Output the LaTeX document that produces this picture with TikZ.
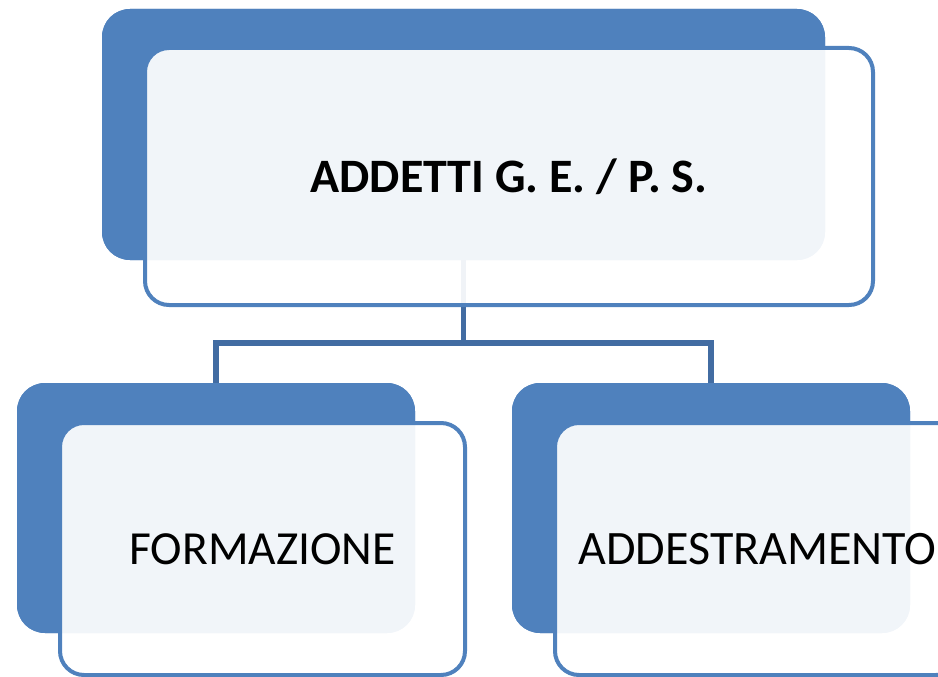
\documentclass[tikz,border=0pt]{standalone}
\usepackage{fontspec}
\setmainfont{Carlito}
\definecolor{accent}{RGB}{79,129,189}
\definecolor{connc}{RGB}{66,108,162}
\begin{document}
\begin{tikzpicture}[x=1pt,y=-1pt,
  backbox/.style={draw=none,fill=accent,rounded corners=28pt,inner sep=0pt},
  frontbox/.style={draw=accent,line width=4pt,fill=white,fill opacity=0.92,text opacity=1,draw opacity=1,rounded corners=24pt,inner sep=0pt,text=black},
  connline/.style={draw=connc,line width=5.5pt,line join=miter}]
\useasboundingbox (0,0) rectangle (938,677);
\clip (0,0) rectangle (938,677);
% back boxes
\node[backbox,minimum width=723pt,minimum height=251pt] (topback) at (463.5,134.5) {};
\node[backbox,minimum width=398pt,minimum height=250pt] (leftback) at (216,508) {};
\node[backbox,minimum width=398pt,minimum height=250pt] (rightback) at (711,508) {};
% connectors
\coordinate (junc) at (463.5,343);
\draw[connline] (topback.south) -- (junc);
\draw[connline] (leftback.north) |- (junc) -| (rightback.north);
% redraw back boxes over connectors
\node[backbox,minimum width=723pt,minimum height=251pt] (topback2) at (463.5,134.5) {};
\node[backbox,minimum width=398pt,minimum height=250pt] (leftback2) at (216,508) {};
\node[backbox,minimum width=398pt,minimum height=250pt] (rightback2) at (711,508) {};
% front boxes
\node[frontbox,minimum width=728pt,minimum height=257pt,font=\fontsize{48}{52}\selectfont\bfseries] (topfront) at (509,176.5) {ADDETTI G. E. / P. S.};
\node[frontbox,minimum width=405pt,minimum height=252pt,font=\fontsize{47.5}{52}\selectfont] (leftfront) at (262.5,549) {FORMAZIONE};
\node[frontbox,minimum width=405pt,minimum height=252pt,font=\fontsize{48}{52}\selectfont] (rightfront) at (757.5,549) {ADDESTRAMENTO};
\end{tikzpicture}
\end{document}
